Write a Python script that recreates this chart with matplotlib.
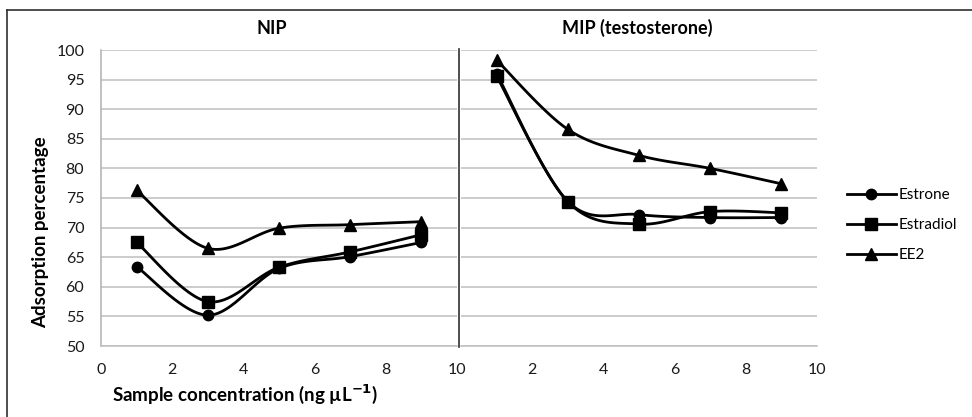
import numpy as np
import matplotlib
matplotlib.use("Agg")
import matplotlib.pyplot as plt
from matplotlib.lines import Line2D

plt.rcParams['font.family'] = ['Lato', 'DejaVu Sans']

conc = [1, 3, 5, 7, 9]
series_names = ["Estrone", "Estradiol", "EE2"]
markers = ["o", "s", "^"]
msizes = [7.5, 8, 9]

nip_estrone = [63.4, 55.2, 63.1, 65.1, 67.5]
nip_estradiol = [67.5, 57.5, 63.3, 65.9, 68.8]
nip_ee2 = [76.3, 66.5, 69.9, 70.5, 71.0]

mip_estrone = [96.0, 74.4, 72.2, 71.7, 71.7]
mip_estradiol = [95.6, 74.4, 70.6, 72.7, 72.5]
mip_ee2 = [98.3, 86.6, 82.2, 80.0, 77.4]

panel_titles = ["NIP", "MIP (testosterone)"]
y_ticks = [50, 55, 60, 65, 70, 75, 80, 85, 90, 95, 100]
x_ticks_left = [0, 2, 4, 6, 8, 10]
x_ticks_right = [2, 4, 6, 8, 10]


def smooth(x, y, n=30):
    """Excel-like smoothed line (Catmull-Rom as cubic Bezier)."""
    p = np.column_stack([x, y]).astype(float)
    out = []
    for i in range(len(p) - 1):
        p0 = p[i - 1] if i > 0 else p[i]
        p1 = p[i]
        p2 = p[i + 1]
        p3 = p[i + 2] if i + 2 < len(p) else p[i + 1]
        c1 = p1 + (p2 - p0) / 6.0
        c2 = p2 - (p3 - p1) / 6.0
        t = np.linspace(0, 1, n)[:, None]
        seg = ((1 - t) ** 3) * p1 + 3 * ((1 - t) ** 2) * t * c1 + 3 * (1 - t) * t ** 2 * c2 + t ** 3 * p2
        if i > 0:
            seg = seg[1:]
        out.append(seg)
    out = np.vstack(out)
    return out[:, 0], out[:, 1]


W, H = 972, 417
fig = plt.figure(figsize=(W / 100, H / 100), dpi=100)

# outer frame (top and left visible)
fig.add_artist(Line2D([7 / W, 7 / W], [0, 1 - 10 / H], color="#303030", lw=1.2))
fig.add_artist(Line2D([7 / W, 1], [1 - 10 / H, 1 - 10 / H], color="#303030", lw=1.2))

bottom = 1 - 346 / H
height = (346 - 50) / H
axL = fig.add_axes([101 / W, bottom, 356 / W, height])
axR = fig.add_axes([461 / W, bottom, 356 / W, height])

data = [
    (axL, [nip_estrone, nip_estradiol, nip_ee2], x_ticks_left),
    (axR, [mip_estrone, mip_estradiol, mip_ee2], x_ticks_right),
]

for ax, vals, xt in data:
    ax.set_xlim(0, 10)
    ax.set_ylim(50, 100)
    ax.set_yticks(y_ticks)
    ax.set_xticks(xt)
    ax.grid(axis="y", color="#bfbfbf", lw=1.1)
    ax.set_axisbelow(True)
    for s in ["top", "right"]:
        ax.spines[s].set_visible(False)
    ax.spines["bottom"].set_color("#bfbfbf")
    ax.spines["bottom"].set_linewidth(1.1)
    ax.tick_params(length=0, labelsize=11.5, colors="#1a1a1a")
    ax.tick_params(axis="x", pad=12)
    ax.tick_params(axis="y", pad=12)
    for name, v, m, ms in zip(series_names, vals, markers, msizes):
        sx, sy = smooth(conc, v)
        ax.plot(sx, sy, color="black", lw=2, solid_capstyle="round")
        ax.plot(conc, v, linestyle="none", marker=m, ms=ms, color="black")

axL.spines["left"].set_color("#b0b0b0")
axL.spines["left"].set_linewidth(1.1)
axR.spines["left"].set_visible(False)
axR.tick_params(axis="y", labelleft=False)

# divider
fig.add_artist(Line2D([459.3 / W, 459.3 / W], [1 - 347 / H, 1 - 49 / H], color="#303030", lw=1.2))

fig.text(272 / W, 1 - 28 / H, panel_titles[0], ha="center", va="center", fontsize=13, fontweight="bold")
fig.text(637 / W, 1 - 28 / H, panel_titles[1], ha="center", va="center", fontsize=13, fontweight="bold")

fig.text(41 / W, 1 - 232 / H, "Adsorption percentage", rotation=90, ha="center", va="center",
         fontsize=13.5, fontweight="bold")
fig.text(245 / W, 1 - 394 / H, "Sample concentration (ng µL$^{\\mathbf{-1}}$)", ha="center", va="center",
         fontsize=13.5, fontweight="bold")

handles = [Line2D([], [], color="black", lw=2, marker=m, ms=ms) for m, ms in zip(markers, msizes)]
fig.legend(handles, series_names, loc="center left", bbox_to_anchor=(847 / W, 1 - 225 / H),
           frameon=False, fontsize=11, handlelength=3.2, handletextpad=0.15,
           labelspacing=1.05, borderpad=0, borderaxespad=0)

fig.savefig("out.png", dpi=100)
